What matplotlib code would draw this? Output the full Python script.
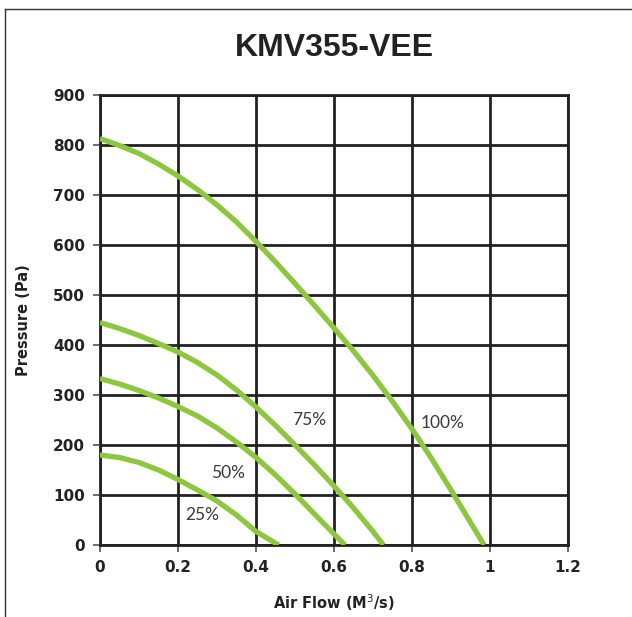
import matplotlib
matplotlib.use("Agg")
import matplotlib.pyplot as plt
from matplotlib.lines import Line2D

title = "KMV355-VEE"
x_label = "Air Flow (M$^3$/s)"
y_label = "Pressure (Pa)"
x_ticks = [0, 0.2, 0.4, 0.6, 0.8, 1.0, 1.2]
x_tick_labels = ["0", "0.2", "0.4", "0.6", "0.8", "1", "1.2"]
y_ticks = [0, 100, 200, 300, 400, 500, 600, 700, 800, 900]

flow_100 = [0.0, 0.05, 0.1, 0.15, 0.2, 0.25, 0.3, 0.35, 0.4, 0.45, 0.5, 0.55, 0.6,
            0.65, 0.7, 0.75, 0.8, 0.85, 0.9, 0.95, 0.985]
pres_100 = [813, 799, 783, 762, 738, 711, 680, 646, 607, 566, 523, 479, 434,
            388, 339, 287, 232, 173, 110, 45, 0]

flow_75 = [0.0, 0.05, 0.1, 0.15, 0.2, 0.25, 0.3, 0.35, 0.4, 0.45, 0.5, 0.55, 0.6,
           0.65, 0.7, 0.727]
pres_75 = [445, 433, 419, 403, 386, 365, 340, 310, 276, 239, 200, 160, 118,
           74, 27, 0]

flow_50 = [0.0, 0.05, 0.1, 0.15, 0.2, 0.25, 0.3, 0.35, 0.4, 0.45, 0.5, 0.55, 0.6, 0.628]
pres_50 = [333, 322, 309, 294, 277, 258, 234, 206, 175, 140, 102, 62, 22, 0]

flow_25 = [0.0, 0.05, 0.1, 0.15, 0.2, 0.25, 0.3, 0.35, 0.4, 0.458]
pres_25 = [180, 175, 165, 150, 131, 110, 88, 60, 27, 0]

curve_labels = ["100%", "75%", "50%", "25%"]
label_x = [0.879, 0.536, 0.327, 0.261]
label_y = [245, 250, 145, 59]

green = "#8DC63F"
ink = "#222222"

fig = plt.figure(figsize=(6.32, 6.17), dpi=100)
ax = fig.add_axes([100/632, 1-545/617, 468/632, 450/617])

for fx, py in [(flow_100, pres_100), (flow_75, pres_75), (flow_50, pres_50), (flow_25, pres_25)]:
    ax.plot(fx, py, color=green, lw=3.8, solid_capstyle="butt", solid_joinstyle="round", zorder=3)

for t, lx, ly in zip(curve_labels, label_x, label_y):
    ax.text(lx, ly, t, ha="center", va="center", fontsize=12.5, color="#3a3a3a",
            family="Lato", fontweight="normal", zorder=4)

ax.set_xlim(0, 1.2)
ax.set_ylim(0, 900)
ax.set_xticks(x_ticks)
ax.set_xticklabels(x_tick_labels)
ax.set_yticks(y_ticks)
ax.grid(True, color=ink, lw=2.0, zorder=1)
ax.set_axisbelow(True)
for s in ax.spines.values():
    s.set_color(ink)
    s.set_linewidth(2.0)
ax.tick_params(axis="both", length=5, width=1.2, color="#555555", direction="out",
               labelsize=11, labelcolor=ink, pad=6)
for lab in ax.get_xticklabels() + ax.get_yticklabels():
    lab.set_fontweight("bold")
    lab.set_family("DejaVu Sans")

ax.set_xlabel(x_label, fontsize=10.5, fontweight="bold", color=ink, labelpad=12)
ax.set_ylabel(y_label, fontsize=10.5, fontweight="bold", color=ink, labelpad=16)

fig.text(0.5*(100+568)/632, 1-48/617, title, ha="center", va="center",
         fontsize=23, fontweight="bold", color=ink, family=["Liberation Sans", "DejaVu Sans"])

fig.add_artist(Line2D([5/632, 5/632], [0, 1-8.5/617], transform=fig.transFigure,
                      color="#333333", lw=1.0))
fig.add_artist(Line2D([5/632, 1], [1-8.5/617, 1-8.5/617], transform=fig.transFigure,
                      color="#333333", lw=1.0))

fig.savefig("out.png", dpi=100)
